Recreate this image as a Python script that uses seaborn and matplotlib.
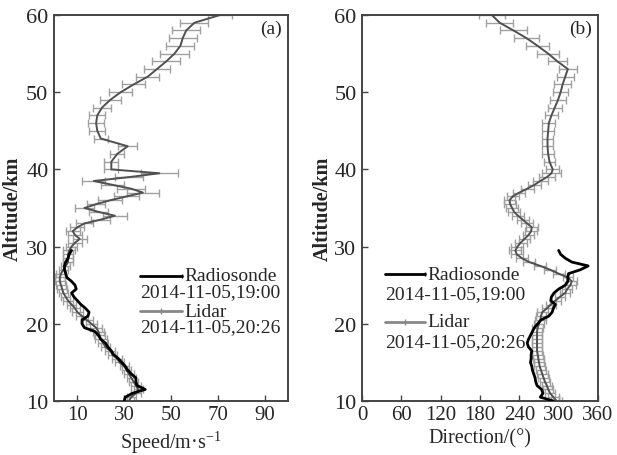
import numpy as np
import pandas as pd
import matplotlib
matplotlib.use("Agg")
import matplotlib.pyplot as plt
import seaborn as sns

# ----------------------------
# Data
# ----------------------------
# lidar altitudes: 0.5 km steps up to 40 km, 1 km steps above
lidar_alt = [10, 10.5, 11, 11.5, 12, 12.5, 13, 13.5, 14, 14.5,
             15, 15.5, 16, 16.5, 17, 17.5, 18, 18.5, 19, 19.5,
             20, 20.5, 21, 21.5, 22, 22.5, 23, 23.5, 24, 24.5,
             25, 25.5, 26, 26.5, 27, 27.5, 28, 28.5, 29, 29.5,
             30, 30.5, 31, 31.5, 32, 32.5, 33, 33.5, 34, 34.5,
             35, 35.5, 36, 36.5, 37, 37.5, 38, 38.5, 39, 39.5,
             40, 41, 42, 43, 44, 45, 46, 47, 48, 49,
             50, 51, 52, 53, 54, 55, 56, 57, 58, 59, 60]

lidar_speed = [32, 33, 35, 36, 35, 34, 33, 32, 31, 30,
               28, 27, 25, 24, 22, 21, 20, 19.5, 19, 18,
               16, 14, 12, 10, 9, 7.5, 6, 5, 4, 3.5,
               3, 2.5, 2.5, 3, 4, 5, 6, 6, 6, 6.5,
               7.5, 9, 11, 9, 8, 10, 13, 20, 26, 19,
               13, 18, 24, 31, 38, 33, 25, 17, 32, 45,
               24.5, 24.5, 27, 31.5, 20, 18.5, 18, 18.5, 20.5, 24,
               28.5, 34, 40, 44, 48, 51.5, 54, 55, 56.5, 60, 71]

lidar_speed_err = [2, 2, 2, 2, 2, 2, 2, 2, 2, 2,
                   2, 2, 2, 2, 2, 2, 2.5, 2.5, 2.5, 2.5,
                   2.5, 2.5, 2.5, 2.5, 2, 2, 2, 2, 2, 2,
                   2, 2, 2, 2, 2, 2, 2, 2, 2, 2.5,
                   2.5, 3, 3, 3, 3, 3, 3.5, 4, 5, 4,
                   4, 4, 5, 5.5, 7, 6, 5, 5, 6, 8,
                   3, 3, 3, 4, 3, 3.5, 3.5, 3.5, 4, 4.5,
                   5, 5, 5, 5.5, 6, 6, 6, 6, 6, 6, 5]

lidar_dir = [297, 292, 287, 284, 282, 279, 277, 275, 273, 271,
             270, 269, 268, 267, 267, 267, 267, 267, 267, 268,
             270, 272, 273, 275, 282, 288, 295, 302, 310, 313,
             318, 320, 314, 300, 287, 272, 255, 244, 236, 234,
             237, 242, 248, 254, 258, 259, 252, 245, 238, 232,
             229, 226, 225, 230, 240, 252, 263, 272, 282, 289,
             291, 286, 284, 283, 283, 284, 285, 289, 294, 299,
             303, 306, 310, 314, 298, 284, 268, 251, 231, 210, 198]

lidar_dir_err = [8, 8, 8, 8, 8, 8, 8, 8, 8, 8,
                 8, 8, 8, 8, 8, 8, 8, 8, 8, 8,
                 8, 8, 8, 8, 8, 8, 8, 8, 8, 8,
                 8, 8, 8, 9, 9, 9, 9, 9, 9, 9,
                 9, 9, 9, 9, 9, 9, 9, 9, 9, 9,
                 9, 9, 9, 9, 9, 10, 10, 11, 12, 14,
                 10, 9, 9, 9, 9, 9, 10, 10, 11, 12,
                 12, 13, 13, 14, 15, 17, 18, 19, 20, 21, 20]

# radiosonde, 0.5 km steps from 10 to ~30 km
sonde_alt = [10, 10.5, 11, 11.5, 12, 12.5, 13, 13.5, 14, 14.5,
             15, 15.5, 16, 16.5, 17, 17.5, 18, 18.5, 19, 19.5,
             20, 20.5, 21, 21.5, 22, 22.5, 23, 23.5, 24, 24.5,
             25, 25.5, 26, 26.5, 27, 27.5, 28, 28.5, 29, 29.5]

sonde_speed = [30, 30.5, 33.5, 39, 35.5, 35, 35, 33, 31.5, 30.5,
               29, 27.5, 25.5, 24.5, 23, 22, 20, 19, 17.5, 13,
               12, 12, 14.5, 15, 13.5, 11.5, 10, 8.5, 7.5, 9.5,
               9, 7.5, 5.5, 5, 4.5, 4.5, 5, 6, 6.5, 7.5]

sonde_dir = [292, 272, 276, 274, 267, 265, 264, 262, 260, 259,
             257, 258, 258, 259, 254, 252, 254, 257, 260, 263,
             268, 273, 285, 290, 292, 295, 288, 289, 293, 300,
             310, 314, 314, 315, 333, 345, 320, 310, 303, 300]

speed_ticks = [10, 30, 50, 70, 90]
dir_ticks = [0, 60, 120, 180, 240, 300, 360]
alt_ticks = [10, 20, 30, 40, 50, 60]

lidar = pd.DataFrame({"alt": lidar_alt, "speed": lidar_speed,
                      "speed_err": lidar_speed_err,
                      "dir": lidar_dir, "dir_err": lidar_dir_err})
sonde = pd.DataFrame({"alt": sonde_alt, "speed": sonde_speed, "dir": sonde_dir})

# ----------------------------
# Style
# ----------------------------
sns.set_style("ticks")
plt.rcParams["font.family"] = ["Liberation Serif", "DejaVu Serif"]
plt.rcParams["mathtext.default"] = "regular"
plt.rcParams["axes.edgecolor"] = "#444444"
plt.rcParams["axes.linewidth"] = 1.4

fig = plt.figure(figsize=(6.17, 4.56), dpi=100)
ax1 = fig.add_axes([0.0875, 0.1184, 0.3793, 0.8465])
ax2 = fig.add_axes([0.5867, 0.1184, 0.3825, 0.8465])

lidar_line = "#505050"
bar_col = "#a0a0a0"


def panel(ax, col, err, xlim, xticks, xlabel, tag, leg_x, leg_y):
    ax.errorbar(lidar[col], lidar["alt"], xerr=lidar[err], fmt="none",
                ecolor=bar_col, elinewidth=1.0, capsize=2.8, capthick=1.0, zorder=1)
    sns.lineplot(data=lidar, x=col, y="alt", orient="y", sort=False, estimator=None,
                 color=lidar_line, linewidth=1.4, ax=ax, zorder=2)
    sns.lineplot(data=sonde, x=col, y="alt", orient="y", sort=False, estimator=None,
                 color="black", linewidth=2.0, ax=ax, zorder=3)
    ax.set_xlim(*xlim)
    ax.set_ylim(10, 60)
    ax.set_xticks(xticks)
    ax.set_yticks(alt_ticks)
    ax.tick_params(direction="in", length=4, width=1, labelsize=15, pad=3,
                   color="#444444")
    ax.tick_params(axis="y", pad=4, labelsize=16)
    ax.set_xlabel(xlabel, fontsize=14.5, labelpad=3)
    ax.set_ylabel("Altitude/km", fontsize=14.5, fontweight="bold")
    ax.yaxis.label.set_verticalalignment("baseline")
    ax.text(0.975, 0.965, tag, transform=ax.transAxes, ha="right", va="center",
            fontsize=14)
    for s in ["top", "right"]:
        ax.spines[s].set_visible(True)

    # legend, drawn by hand so the date sits under the handle
    x0, x1 = leg_x
    ax.plot([x0, x1], [leg_y[0]] * 2, transform=ax.transAxes, color="black",
            lw=2.0, marker="|", markevery=[1], ms=3, clip_on=False)
    ax.plot([x0, x1], [leg_y[2]] * 2, transform=ax.transAxes, color="#888888",
            lw=2.0, clip_on=False)
    ax.plot([(x0 + x1) / 2], [leg_y[2]], transform=ax.transAxes, color="#888888",
            marker="|", ms=5, clip_on=False)
    ax.text(x1 + 0.01, leg_y[0], "Radiosonde", transform=ax.transAxes,
            va="center", fontsize=14)
    ax.text(x0, leg_y[1], "2014-11-05,19:00", transform=ax.transAxes,
            va="center", fontsize=14)
    ax.text(x1 + 0.01, leg_y[2], "Lidar", transform=ax.transAxes,
            va="center", fontsize=14)
    ax.text(x0, leg_y[3], "2014-11-05,20:26", transform=ax.transAxes,
            va="center", fontsize=14)


panel(ax1, "speed", "speed_err", (0, 100), speed_ticks, "Speed/m·s$^{-1}$", "(a)",
      (0.368, 0.547), (0.324, 0.283, 0.233, 0.192))
panel(ax2, "dir", "dir_err", (0, 360), dir_ticks, "Direction/(°)", "(b)",
      (0.097, 0.267), (0.329, 0.277, 0.205, 0.155))

ax1.yaxis.set_label_coords(-0.155, 0.5)
ax2.yaxis.set_label_coords(-0.145, 0.5)

fig.savefig("out.png", dpi=100)
